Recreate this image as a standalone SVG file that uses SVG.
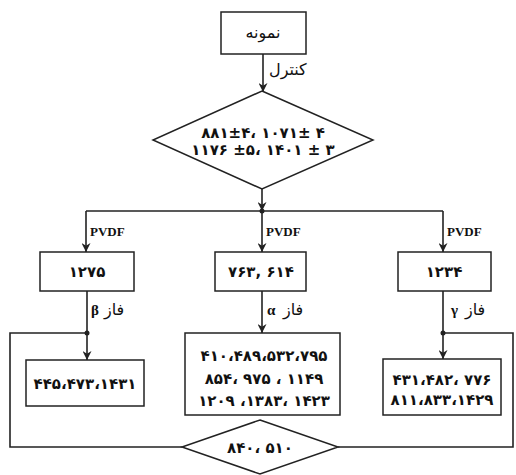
<svg xmlns="http://www.w3.org/2000/svg" width="516" height="475" viewBox="0 0 516 475">
<style>
.box{fill:#fff;stroke:#222;stroke-width:1.5}
.ln{fill:none;stroke:#222;stroke-width:1.6}
.num{font-family:"DejaVu Sans",sans-serif;font-weight:bold;font-size:15px;fill:#111;text-anchor:middle}
.fa{font-family:"DejaVu Sans",sans-serif;font-size:16px;fill:#111}
.pv{font-family:"Liberation Serif",serif;font-weight:bold;font-size:13px;fill:#111}
.gr{font-family:"Liberation Serif",serif;font-weight:bold;font-size:15px;fill:#111}
</style>
<defs>
<marker id="ah" viewBox="0 0 10 10" refX="10" refY="5" markerWidth="9" markerHeight="9" markerUnits="userSpaceOnUse" orient="auto">
<path d="M0,0 L10,5 L0,10 L3,5 z" fill="#222"/>
</marker>
</defs>
<rect width="516" height="475" fill="#fff"/>
<g id="connectors">
<line class="ln" x1="263" y1="54" x2="263" y2="92" marker-end="url(#ah)"/>
<line class="ln" x1="262" y1="189" x2="262" y2="211" marker-end="url(#ah)"/>
<line class="ln" x1="86" y1="211" x2="443" y2="211"/>
<circle cx="262" cy="211" r="2.5" fill="#222"/>
<line class="ln" x1="86" y1="211" x2="86" y2="252" marker-end="url(#ah)"/>
<line class="ln" x1="262" y1="211" x2="262" y2="252" marker-end="url(#ah)"/>
<line class="ln" x1="443" y1="211" x2="443" y2="252" marker-end="url(#ah)"/>
<line class="ln" x1="87" y1="291" x2="87" y2="360" marker-end="url(#ah)"/>
<circle cx="87" cy="333" r="2.5" fill="#222"/>
<line class="ln" x1="262" y1="291" x2="262" y2="333" marker-end="url(#ah)"/>
<line class="ln" x1="443" y1="291" x2="443" y2="359" marker-end="url(#ah)"/>
<circle cx="443" cy="333" r="2.5" fill="#222"/>
<polyline class="ln" points="87,333 10,333 10,447 182,447"/>
<polyline class="ln" points="338,447 513,447 513,333 443,333"/>
<text class="fa" x="269" y="75" font-size="18">کنترل</text>
<text class="pv" x="90" y="236">PVDF</text>
<text class="pv" x="266" y="236">PVDF</text>
<text class="pv" x="447" y="236">PVDF</text>
<text class="gr" x="91" y="315">β</text>
<text class="fa" x="104" y="315">فاز</text>
<text class="gr" x="267" y="315">α</text>
<text class="fa" x="283" y="315">فاز</text>
<text class="gr" x="451" y="315">γ</text>
<text class="fa" x="465" y="315">فاز</text>
</g>
<g id="sample">
<rect class="box" x="221" y="12" width="85" height="42"/>
<text class="fa" x="263" y="38" text-anchor="middle">نمونه</text>
</g>
<g id="control-diamond">
<polygon class="box" points="262,91 373,140 262,189 153,140"/>
<text class="num" x="263" y="138">۸۸۱±۴، ۱۰۷۱± ۴</text>
<text class="num" x="263" y="155">۱۱۷۶ ±۵، ۱۴۰۱ ± ۳</text>
</g>
<g id="beta-box">
<rect class="box" x="40" y="252" width="94" height="39"/>
<text class="num" x="87" y="277">۱۲۷۵</text>
</g>
<g id="alpha-box">
<rect class="box" x="215" y="252" width="91" height="39"/>
<text class="num" x="261" y="277">۷۶۳, ۶۱۴</text>
</g>
<g id="gamma-box">
<rect class="box" x="398" y="252" width="93" height="39"/>
<text class="num" x="444" y="277">۱۲۳۴</text>
</g>
<g id="beta-peaks">
<rect class="box" x="26" y="360" width="118" height="46"/>
<text class="num" x="85" y="389">۴۴۵،۴۷۳،۱۴۳۱</text>
</g>
<g id="alpha-peaks">
<rect class="box" x="185" y="333" width="155" height="82"/>
<text class="num" x="264" y="361">۴۱۰،۴۸۹،۵۳۲،۷۹۵</text>
<text class="num" x="264" y="384">۸۵۴، ۹۷۵ ، ۱۱۴۹</text>
<text class="num" x="264" y="406">۱۲۰۹ ،۱۳۸۳، ۱۴۲۳</text>
</g>
<g id="gamma-peaks">
<rect class="box" x="383" y="359" width="118" height="56"/>
<text class="num" x="442" y="385">۴۳۱،۴۸۲، ۷۷۶</text>
<text class="num" x="442" y="405">۸۱۱،۸۳۳،۱۴۲۹</text>
</g>
<g id="bottom-diamond">
<polygon class="box" points="260,420 338,447 260,474 182,447"/>
<text class="num" x="260" y="453">۸۴۰، ۵۱۰</text>
</g>
</svg>
